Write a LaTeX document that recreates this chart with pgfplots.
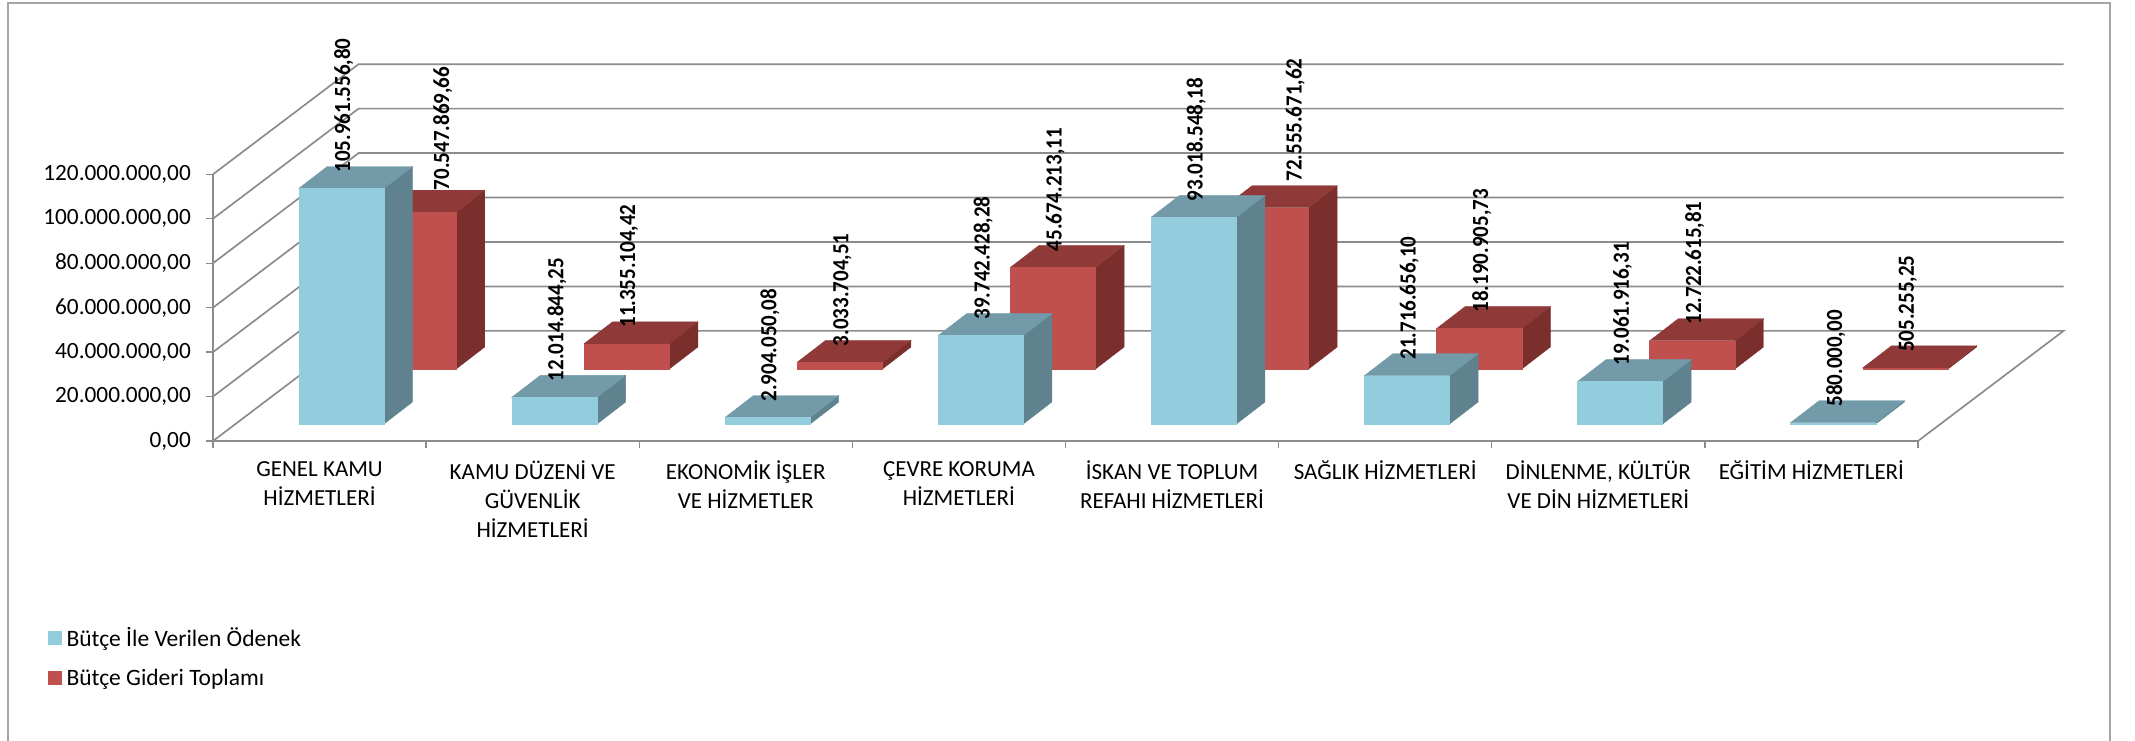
\documentclass[border=0pt]{standalone}
\usepackage{fontspec}
\setmainfont{Carlito}
\usepackage{pgfplots}
\usepackage{pgfplotstable}
\pgfplotsset{compat=1.18}

\definecolor{gridc}{HTML}{8C8C8C}
\definecolor{framec}{HTML}{A6A6A6}
\definecolor{bluef}{HTML}{93CDDD}
\definecolor{bluet}{HTML}{729AA8}
\definecolor{blues}{HTML}{5F828E}
\definecolor{redf}{HTML}{C0504D}
\definecolor{redt}{HTML}{8F3A39}
\definecolor{reds}{HTML}{7A2F2D}

% idx: category position; lx, ly: extra offset of the red label where the blue bar hides its bar
\pgfplotstableread{
idx   odenek       lblA            gider       lblB            lx     ly
0  105961556.80  105.961.556,80  70547869.66  70.547.869,66   0.125  2700000
1  12014844.25   12.014.844,25   11355104.42  11.355.104,42   0      0
2  2904050.08    2.904.050,08    3033704.51   3.033.704,51    0      0
3  39742428.28   39.742.428,28   45674213.11  45.674.213,11   0      0
4  93018548.18   93.018.548,18   72555671.62  72.555.671,62   0.125  4500000
5  21716656.10   21.716.656,10   18190905.73  18.190.905,73   0      0
6  19061916.31   19.061.916,31   12722615.81  12.722.615,81   0      0
7  580000.00     580.000,00      505255.25    505.255,25      0      0
}\budget

\pgfdeclareplotmark{nothing}{}

% cuboid: {front}{top}{side}{lift above the floor in pt}
\pgfplotsset{
  cuboid/.style n args={4}{
    only marks, scatter, mark=nothing, forget plot,
    point meta=y, point meta min=0, point meta max=120000000,
    scatter/@pre marker code/.code={
      \pgfmathsetmacro\hh{\pgfplotspointmetatransformed*0.26667}
      \pgfmathsetmacro\bb{#4-\hh}
      \fill[#3] (42.6pt,\bb pt) -- (42.6pt,#4pt) -- (71.2pt,#4pt+22pt) -- (71.2pt,\bb pt+22pt) -- cycle;
      \fill[#2] (-42.6pt,#4pt) -- (42.6pt,#4pt) -- (71.2pt,#4pt+22pt) -- (-14pt,#4pt+22pt) -- cycle;
      \fill[#1] (-42.6pt,\bb pt) rectangle (42.6pt,#4pt);
    },
    scatter/@post marker code/.code={},
  },
  barlabel/.style={
    draw=none, mark=none, forget plot,
    point meta=explicit symbolic,
    nodes near coords={\scalebox{1}[1.1]{\pgfplotspointmeta}},
    every node near coord/.style={
      xshift=2.5pt, yshift=#1pt, rotate=90, anchor=west, inner sep=0pt,
      text=black, font=\fontsize{21}{22}\selectfont\bfseries},
  },
  gridl/.style={gridc, line width=1.7pt, forget plot, no markers},
}

\begin{document}
\begin{tikzpicture}[x=1pt,y=1pt]
\path[use as bounding box] (0,0) rectangle (2135,740);
\draw[framec, line width=1.6pt] (8,-5) -- (8,737) -- (2110,737) -- (2110,-5);
\begin{axis}[
  at={(213pt,299pt)}, anchor=south west,
  scale only axis, width=1705pt, height=266.7pt,
  xmin=0, xmax=8, ymin=0, ymax=120000000,
  clip=false, scaled y ticks=false,
  axis x line*=bottom, axis y line*=left,
  axis line style={gridc, line width=1.7pt, -},
  tick style={gridc, line width=1.4pt},
  tick align=outside, major tick length=7pt,
  tick label style={font=\fontsize{23.3}{29}\selectfont},
  ytick={0,20000000,40000000,60000000,80000000,100000000,120000000},
  yticklabels={{0,00},{20.000.000,00},{40.000.000,00},{60.000.000,00},{80.000.000,00},{100.000.000,00},{120.000.000,00}},
  y tick label style={inner sep=0pt, xshift=-15pt},
  xtick={0,1,2,3,4,5,6,7,8},
  xticklabels={},
  extra x ticks={0.5,1.5,2.5,3.5,4.5,5.5,6.5,7.5},
  extra x tick labels={
    GENEL KAMU\\HİZMETLERİ,
    KAMU DÜZENİ VE\\GÜVENLİK\\HİZMETLERİ,
    EKONOMİK İŞLER\\VE HİZMETLER,
    ÇEVRE KORUMA\\HİZMETLERİ,
    İSKAN VE TOPLUM\\REFAHI HİZMETLERİ,
    SAĞLIK HİZMETLERİ,
    {DİNLENME, KÜLTÜR\\VE DİN HİZMETLERİ},
    EĞİTİM HİZMETLERİ},
  extra x tick style={major tick length=0pt,
    x tick label style={align=center, anchor=north, yshift=-20pt, inner sep=0pt,
      font=\fontsize{23}{29}\selectfont}},
  legend style={at={(-0.0968,-0.69)}, anchor=north west, draw=none, fill=none,
    font=\fontsize{23.5}{27}\selectfont, row sep=17pt, inner sep=0pt,
    cells={anchor=west}},
]
% walls and floor
\addplot[gridl] coordinates {(0,0) (0.683,49550000) (8.683,49550000) (8,0)};
\addplot[gridl] coordinates {(0,20000000) (0.683,69550000) (8.683,69550000)};
\addplot[gridl] coordinates {(0,40000000) (0.683,89550000) (8.683,89550000)};
\addplot[gridl] coordinates {(0,60000000) (0.683,109550000) (8.683,109550000)};
\addplot[gridl] coordinates {(0,80000000) (0.683,129550000) (8.683,129550000)};
\addplot[gridl] coordinates {(0,100000000) (0.683,149550000) (8.683,149550000)};
\addplot[gridl] coordinates {(0,120000000) (0.683,169550000) (8.683,169550000)};
% back row, then front row
\addplot[cuboid={redf}{redt}{reds}{72}] table[x expr=\thisrow{idx}+0.941, y=gider] {\budget};
\addplot[cuboid={bluef}{bluet}{blues}{17}] table[x expr=\thisrow{idx}+0.602, y=odenek] {\budget};
% value labels sit on top of everything
\addplot[barlabel=88] table[x expr=\thisrow{idx}+0.941+\thisrow{lx}, y expr=\thisrow{gider}+\thisrow{ly}, meta=lblB] {\budget};
\addplot[barlabel=33] table[x expr=\thisrow{idx}+0.602, y=odenek, meta=lblA] {\budget};
\addlegendimage{legend image code/.code={\fill[bluef] (0pt,-6.5pt) rectangle (13pt,6.5pt);}}
\addlegendentry{\hspace{3pt}Bütçe İle Verilen Ödenek}
\addlegendimage{legend image code/.code={\fill[redf] (0pt,-6.5pt) rectangle (13pt,6.5pt);}}
\addlegendentry{\hspace{3pt}Bütçe Gideri Toplamı}
\end{axis}
\end{tikzpicture}
\end{document}
